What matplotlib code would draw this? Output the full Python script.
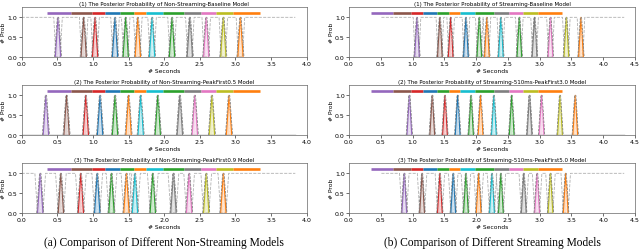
import matplotlib
matplotlib.use('Agg')
import matplotlib.pyplot as plt

# token spans (same utterance for every model)
seg_edges = [0.35, 0.69, 0.98, 1.17, 1.38, 1.58, 1.74, 1.99, 2.28, 2.52, 2.73, 2.97, 3.35]
seg_colors = ['tab:purple', 'tab:brown', 'tab:red', 'tab:blue', 'tab:green', 'tab:orange',
              'tab:cyan', 'tab:green', 'tab:gray', 'tab:pink', 'tab:olive', 'tab:orange']

# peak times of each token (seconds)
peaks_ns_base = [0.51, 0.87, 1.03, 1.31, 1.46, 1.63, 1.83, 2.11, 2.36, 2.59, 2.83, 3.07]
peaks_ns_pf05 = [0.34, 0.63, 0.90, 1.10, 1.31, 1.50, 1.67, 1.91, 2.22, 2.43, 2.67, 2.91]
peaks_ns_pf09 = [0.26, 0.55, 0.83, 1.06, 1.26, 1.47, 1.59, 1.84, 2.13, 2.35, 2.59, 2.83]
peaks_s_base = [1.07, 1.43, 1.60, 1.84, 2.05, 2.17, 2.39, 2.68, 2.92, 3.17, 3.42, 3.65]
peaks_s_pf30 = [0.95, 1.31, 1.51, 1.71, 1.92, 2.07, 2.28, 2.56, 2.84, 3.03, 3.32, 3.56]
peaks_s_pf50 = [0.87, 1.15, 1.43, 1.64, 1.84, 2.04, 2.25, 2.39, 2.75, 2.96, 3.17, 3.41]

# blank posterior level outside peaks and its time range
blank_level = [1.0, 0.0, 1.0]
blank_range_ns = [0.0, 3.84]
blank_range_s = [0.51, 4.33]

titles_ns = ['(1) The Posterior Probability of Non-Streaming-Baseline Model',
             '(2) The Posterior Probability of Non-Streaming-PeakFirst0.5 Model',
             '(3) The Posterior Probability of Non-Streaming-PeakFirst0.9 Model']
titles_s = ['(1) The Posterior Probability of Streaming-Baseline Model',
            '(2) The Posterior Probability of Streaming-510ms-PeakFirst3.0 Model',
            '(3) The Posterior Probability of Streaming-510ms-PeakFirst5.0 Model']
captions = ['(a) Comparison of Different Non-Streaming Models',
            '(b) Comparison of Different Streaming Models']

W, H = 640, 253
fig = plt.figure(figsize=(W / 100, H / 100), dpi=100)

rows_px = [(8, 58), (86, 136), (164, 214)]
cols_px = [(21.7, 306.7, 4.0), (349, 635, 4.5)]


def draw(ax, peaks, level, brange, xmax, title, wide):
    hw = 0.038
    # blank line
    if level == 1.0:
        xs, ys = [brange[0]], [1.0]
        d = 0.075 if wide else 0.06
        for c in peaks:
            xs += [c - d, c - d / 2, c + d / 2, c + d]
            ys += [1.0, 0.0, 0.0, 1.0]
        xs.append(brange[1]); ys.append(1.0)
        ax.plot(xs, ys, color='#b0b0b0', ls='--', lw=0.6, zorder=2)
    else:
        ax.plot(brange, [0, 0], color='gray', lw=1.0, zorder=2)
    for c, col in zip(peaks, seg_colors):
        ax.fill([c - hw, c, c + hw], [0, 1, 0], color=col, alpha=0.25, lw=0, zorder=3)
        ax.plot([c - hw, c, c + hw], [0, 1, 0], color=col, lw=0.8, zorder=4)
        ax.plot([c - 0.05, c - 0.01, c + 0.01, c + 0.05], [0, 1, 1, 0],
                color='#707070', ls='--', lw=0.5, zorder=5)
        ax.plot([c, c], [0, 1], color='white', ls=':', lw=0.4, zorder=5)
    for i, col in enumerate(seg_colors):
        ax.plot([seg_edges[i], seg_edges[i + 1]], [1.1, 1.1], color=col, lw=1.9,
                solid_capstyle='butt', zorder=4)
    ax.set_xlim(0, xmax)
    ax.set_ylim(0, 1.26)
    ax.set_yticks([0.0, 0.5, 1.0])
    ax.set_xticks([i * 0.5 for i in range(int(xmax / 0.5) + 1)])
    ax.tick_params(labelsize=4.5, length=2, width=0.4, pad=1)
    ax.set_title(title, fontsize=4, pad=1.5)
    ax.set_xlabel('# Seconds', fontsize=4.3, labelpad=1)
    ax.set_ylabel('# Prob', fontsize=4.3, labelpad=1)
    for s in ax.spines.values():
        s.set_linewidth(0.5)
        s.set_color('#666666')


data = [
    [(peaks_ns_base, blank_level[0]), (peaks_ns_pf05, blank_level[1]), (peaks_ns_pf09, blank_level[2])],
    [(peaks_s_base, blank_level[0]), (peaks_s_pf30, blank_level[1]), (peaks_s_pf50, blank_level[2])],
]
titles = [titles_ns, titles_s]
ranges = [blank_range_ns, blank_range_s]

for ci, (x0, x1, xmax) in enumerate(cols_px):
    for ri, (t, b) in enumerate(rows_px):
        ax = fig.add_axes([x0 / W, (H - b) / H, (x1 - x0) / W, (b - t) / H])
        pk, lvl = data[ci][ri]
        draw(ax, pk, lvl, ranges[ci], xmax, titles[ci][ri], ri == 2)
    fig.text((x0 + x1) / 2 / W, 1 - 243 / H, captions[ci], ha='center', va='center',
             fontsize=8.3, family='Liberation Serif')

fig.savefig('out.png', dpi=100)
